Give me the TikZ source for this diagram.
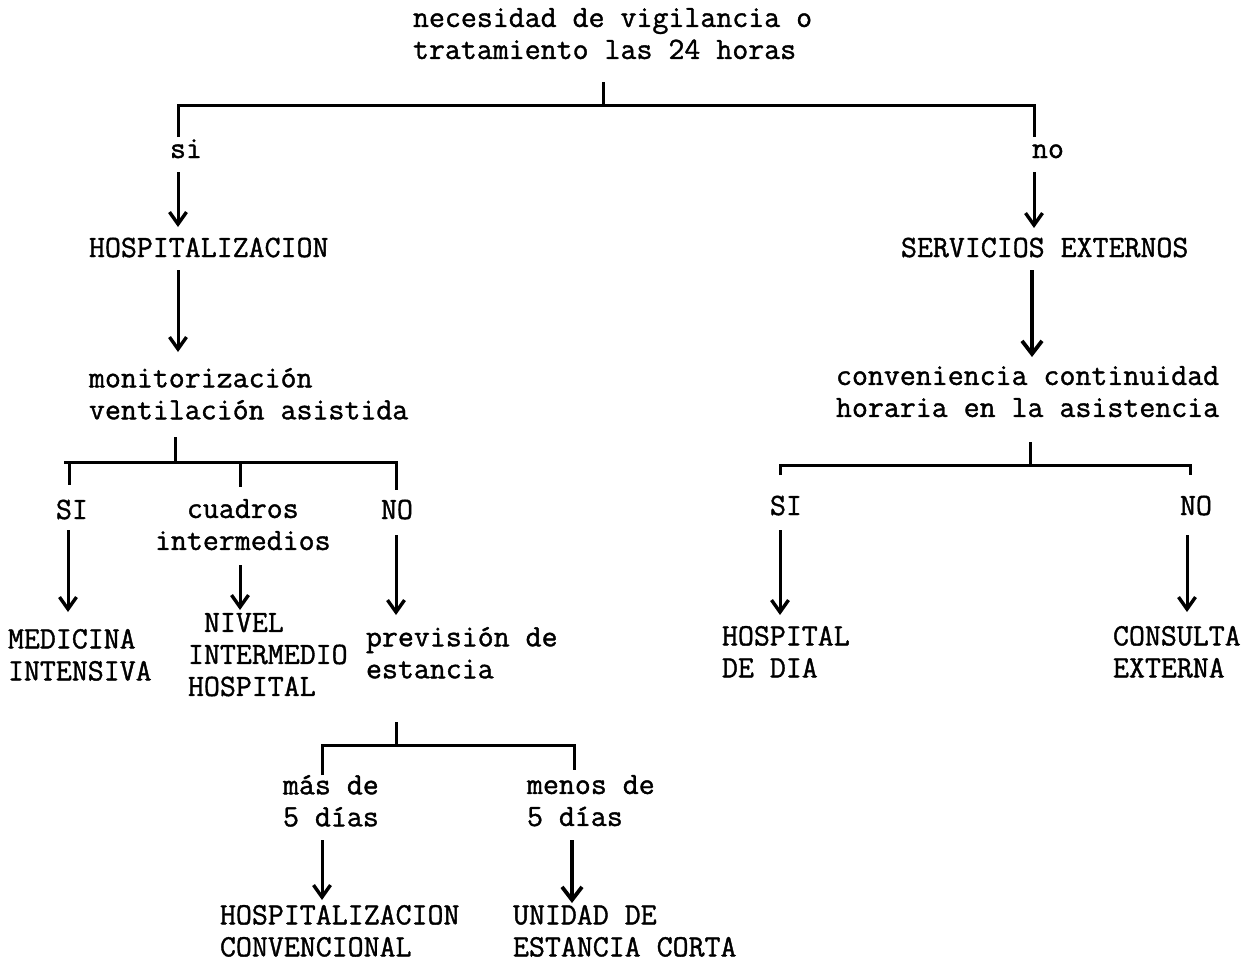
\documentclass[tikz,border=0pt]{standalone}
\usepackage{fontspec}
\setmainfont{Latin Modern Mono}[FakeBold=1.2]
\usetikzlibrary{arrows.meta}

\begin{document}
\begin{tikzpicture}[x=1pt,y=-1pt,
  lbl/.style={anchor=north west, inner sep=0pt, outer sep=0pt, align=left,
    font=\fontsize{31}{32}\selectfont,
    execute at begin node={\rule{0pt}{20pt}}},
  ctr/.style={lbl, align=center},
  ln/.style={line width=3pt, line cap=butt},
  arr/.style={ln, -{Straight Barb[length=12pt,width=17pt,line width=3.4pt]}},
  bigarr/.style={ln, line width=3.4pt, -{Straight Barb[length=13pt,width=20pt,line width=3.8pt]}}]

\useasboundingbox (0,0) rectangle (1260,962);
\fill[white] (0,0) rectangle (1260,962);

% ---- labels (y = first baseline - 20) ----
\node[lbl] (top)  at (413,8)   {necesidad de vigilancia o\\tratamiento las 24 horas};
\node[lbl] (si)   at (170,138) {si};
\node[lbl] (no)   at (1032,138) {no};
\node[lbl] (hosp) at (89,237)  {HOSPITALIZACION};
\node[lbl] (serv) at (901,237) {SERVICIOS EXTERNOS};
\node[lbl] (mon)  at (89,368)  {monitorización\\ventilación asistida};
\node[lbl] (conv) at (836,366) {conveniencia continuidad\\horaria en la asistencia};

\node[lbl] (siA)  at (56,499)  {SI};
\node[ctr] (cua)  at (155,499) {cuadros\\intermedios};
\node[lbl] (noA)  at (381,499) {NO};
\node[lbl] (siB)  at (770,495) {SI};
\node[lbl] (noB)  at (1180,495) {NO};

\node[lbl] (med)  at (8,629)   {MEDICINA\\INTENSIVA};
\node[lbl] (niv)  at (188,613) {\hspace*{16pt}NIVEL\\INTERMEDIO\\HOSPITAL};
\node[lbl] (prev) at (366,627) {previsión de\\estancia};
\node[lbl] (hdia) at (722,626) {HOSPITAL\\DE DIA};
\node[lbl] (cext) at (1113,626) {CONSULTA\\EXTERNA};

\node[lbl] (mas)  at (283,775) {más de\\5 días};
\node[lbl] (men)  at (527,775) {menos de\\5 días};
\node[lbl] (hconv) at (220,905) {HOSPITALIZACION\\CONVENCIONAL};
\node[lbl] (uec)  at (513,905) {UNIDAD DE\\ESTANCIA CORTA};

% ---- first split ----
\coordinate (t0) at (603,82);
\coordinate (t1) at (603,105);
\coordinate (tl) at (178,105);
\coordinate (tr) at (1034,105);
\coordinate (tl2) at (178,137);
\coordinate (tr2) at (1034,137);
\draw[ln] (t0) -- (t1);
\draw[ln] (tl2) -- (tl) -- (tr) -- (tr2);

\coordinate (a1s) at (178,172);  \coordinate (a1e) at (178,227);
\coordinate (a2s) at (1034,172); \coordinate (a2e) at (1034,228);
\draw[arr] (a1s) -- (a1e);
\draw[arr] (a2s) -- (a2e);

\coordinate (a3s) at (178,270);  \coordinate (a3e) at (178,352);
\coordinate (a4s) at (1032,270); \coordinate (a4e) at (1032,357);
\draw[arr] (a3s) -- (a3e);
\draw[bigarr] (a4s) -- (a4e);

% ---- split below monitorización ----
\coordinate (m0) at (175,437);
\coordinate (m1) at (175,462);
\coordinate (ml) at (64,462);
\coordinate (mc) at (240,462);
\coordinate (mr) at (396,462);
\coordinate (ml1) at (69,462);
\coordinate (ml2) at (69,485);
\coordinate (mc2) at (240,487);
\coordinate (mr2) at (396,490);
\draw[ln] (m0) -- (m1);
\draw[ln] (ml) -- (mr) -- (mr2);
\draw[ln] (ml1) -- (ml2);
\draw[ln] (mc) -- (mc2);

\coordinate (b1s) at (68,530);  \coordinate (b1e) at (68,612);
\coordinate (b2s) at (240,565); \coordinate (b2e) at (240,610);
\coordinate (b3s) at (396,535); \coordinate (b3e) at (396,615);
\draw[arr] (b1s) -- (b1e);
\draw[arr] (b2s) -- (b2e);
\draw[arr] (b3s) -- (b3e);

% ---- split below conveniencia ----
\coordinate (c0) at (1030,442);
\coordinate (c1) at (1030,465);
\coordinate (cl) at (780,465);
\coordinate (cr) at (1190,465);
\coordinate (cl2) at (780,475);
\coordinate (cr2) at (1190,475);
\draw[ln] (c0) -- (c1);
\draw[ln] (cl2) -- (cl) -- (cr) -- (cr2);

\coordinate (d1s) at (780,530);  \coordinate (d1e) at (780,615);
\coordinate (d2s) at (1187,535); \coordinate (d2e) at (1187,612);
\draw[arr] (d1s) -- (d1e);
\draw[arr] (d2s) -- (d2e);

% ---- split below previsión de estancia ----
\coordinate (p0) at (396,722);
\coordinate (p1) at (396,745);
\coordinate (pl) at (322,745);
\coordinate (pr) at (574,745);
\coordinate (pl2) at (322,775);
\coordinate (pr2) at (574,770);
\draw[ln] (p0) -- (p1);
\draw[ln] (pl2) -- (pl) -- (pr) -- (pr2);

\coordinate (e1s) at (322,840); \coordinate (e1e) at (322,900);
\coordinate (e2s) at (572,840); \coordinate (e2e) at (572,903);
\draw[arr] (e1s) -- (e1e);
\draw[bigarr] (e2s) -- (e2e);

\end{tikzpicture}
\end{document}
